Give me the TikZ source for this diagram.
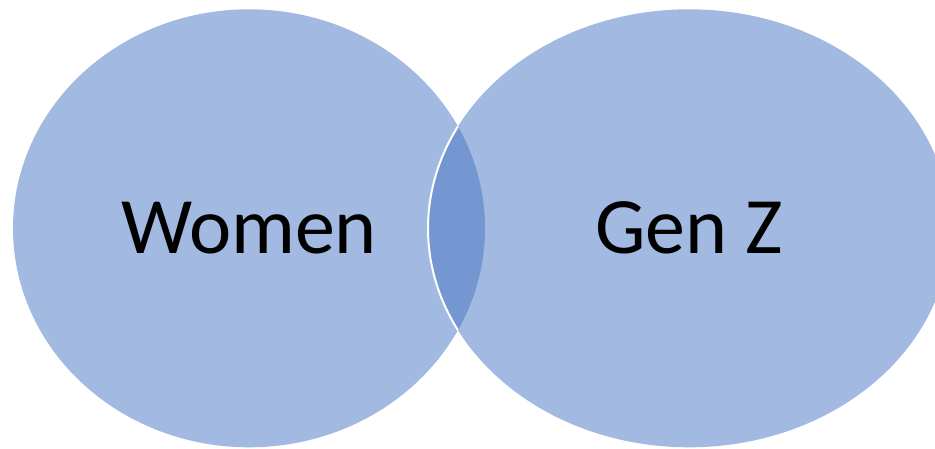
\documentclass[tikz,border=0pt]{standalone}
\usepackage{fontspec}
\setmainfont{Carlito}
\usetikzlibrary{shapes.geometric}
\definecolor{vennfill}{HTML}{A2B9E1}
\definecolor{lensfill}{HTML}{7497D1}
\tikzset{
  vennset/.style={ellipse, fill=vennfill, inner sep=0pt, font=\fontsize{80}{96}\selectfont, text=black},
}
\begin{document}
\begin{tikzpicture}[x=1pt, y=-1pt]
\useasboundingbox (0,0) rectangle (935,448);
\clip (0,0) rectangle (935,448);
\node[vennset, minimum width=472pt, minimum height=438pt] (women) at (249,228.3) {Women};
\node[vennset, minimum width=522pt, minimum height=438pt] (genz) at (689,228.3) {Gen Z};
\begin{scope}
  \clip (women.center) ellipse [x radius=236pt, y radius=219pt];
  \fill[lensfill] (genz.center) ellipse [x radius=261pt, y radius=219pt];
  \draw[white, line width=2pt] (genz.center) ellipse [x radius=261pt, y radius=219pt];
\end{scope}
\end{tikzpicture}
\end{document}
